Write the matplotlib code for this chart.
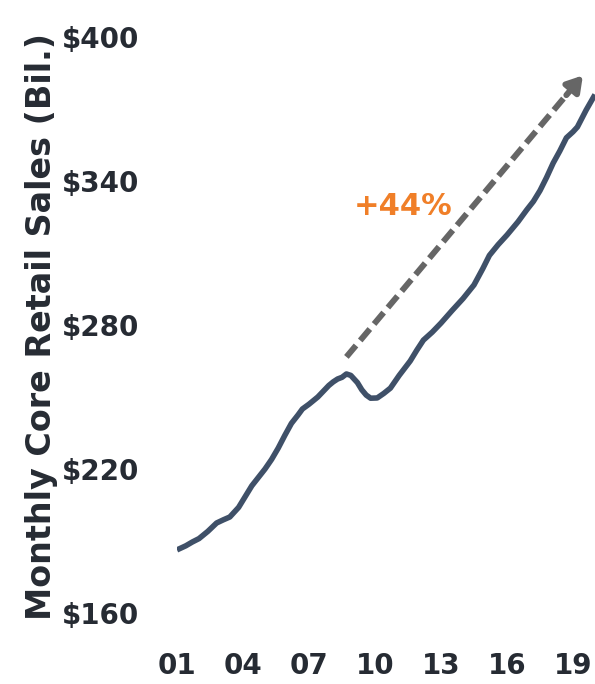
import matplotlib
matplotlib.use("Agg")
import matplotlib.pyplot as plt

# ---- data ----
years = [2001.0, 2001.4, 2001.7, 2002.0, 2002.4, 2002.8, 2003.1, 2003.4, 2003.8,
         2004.1, 2004.4, 2004.7, 2005.0, 2005.3, 2005.6, 2005.9, 2006.2, 2006.5,
         2006.7, 2007.0, 2007.4, 2007.9, 2008.1, 2008.3, 2008.5, 2008.7, 2008.9,
         2009.2, 2009.4, 2009.6, 2009.8, 2010.1, 2010.4, 2010.7, 2011.1, 2011.6,
         2011.9, 2012.2, 2012.6, 2013.0, 2013.5, 2014.0, 2014.5, 2014.9, 2015.2,
         2015.6, 2016.0, 2016.5, 2016.9, 2017.2, 2017.5, 2017.8, 2018.1, 2018.4,
         2018.7, 2019.0, 2019.2, 2019.6, 2020.0]
sales = [186.3, 188.0, 189.6, 191.0, 194.0, 197.5, 198.8, 200.0, 204.0,
         208.5, 213.0, 216.5, 220.0, 224.0, 228.7, 234.0, 239.0, 242.5,
         245.0, 247.0, 250.0, 254.8, 256.3, 257.5, 258.2, 259.6, 259.0,
         256.0, 253.0, 250.8, 249.5, 249.6, 251.5, 253.7, 259.0, 265.0,
         269.5, 273.7, 277.0, 280.8, 286.0, 291.0, 296.7, 303.5, 309.0,
         313.5, 317.5, 323.0, 328.0, 331.5, 336.0, 341.5, 347.5, 352.5,
         358.0, 360.5, 362.5, 369.6, 376.0]
x_ticks = [2001, 2004, 2007, 2010, 2013, 2016, 2019]
x_labels = ["01", "04", "07", "10", "13", "16", "19"]
y_ticks = [160, 220, 280, 340, 400]
y_labels = ["$160", "$220", "$280", "$340", "$400"]
arrow_start = (2008.7, 266.7)
arrow_end = (2019.45, 384.0)
growth_label = "+44%"

LINE = "#3f5068"
TEXT = "#262b33"
ARROW = "#666666"
ORANGE = "#f07f28"

fig = plt.figure(figsize=(5.95, 6.84), dpi=100)
ax = fig.add_axes([177/595, 71/684, 418/595, (613-37)/684])

ax.plot(years, sales, color=LINE, lw=4.0, solid_capstyle="butt",
        solid_joinstyle="round", zorder=3)

# dashed arrow shaft + head
hx = arrow_end[0] - (arrow_end[0]-arrow_start[0]) * 0.07
hy = arrow_end[1] - (arrow_end[1]-arrow_start[1]) * 0.07
ax.plot([arrow_start[0], hx], [arrow_start[1], hy], color=ARROW, lw=4.3,
        dashes=(2.5, 1.1), dash_capstyle="butt", zorder=2)
ax.annotate("", xy=arrow_end, xytext=(hx, hy),
            arrowprops=dict(arrowstyle="-|>,head_length=0.9,head_width=0.55",
                            color=ARROW, lw=4.3, shrinkA=0, shrinkB=0), zorder=2)

ax.text(2011.3, 329.5, growth_label, color=ORANGE, fontsize=22, fontweight="bold",
        ha="center", va="center")

ax.set_xlim(2001, 2020)
ax.set_ylim(160, 400)
ax.set_xticks(x_ticks)
ax.set_xticklabels(x_labels)
ax.set_yticks(y_ticks)
ax.set_yticklabels(y_labels)
for s in ax.spines.values():
    s.set_visible(False)
ax.tick_params(axis="both", length=0, labelsize=20, labelcolor=TEXT)
ax.tick_params(axis="x", pad=28)
ax.tick_params(axis="y", pad=27)
for lab in ax.get_xticklabels() + ax.get_yticklabels():
    lab.set_fontweight("bold")

fig.text(42/595, 1 - 326.5/684, "Monthly Core Retail Sales (Bil.)", rotation=90,
         ha="center", va="center", fontsize=24, fontweight="bold", color=TEXT)

fig.savefig("out.png", dpi=100, facecolor="white")
